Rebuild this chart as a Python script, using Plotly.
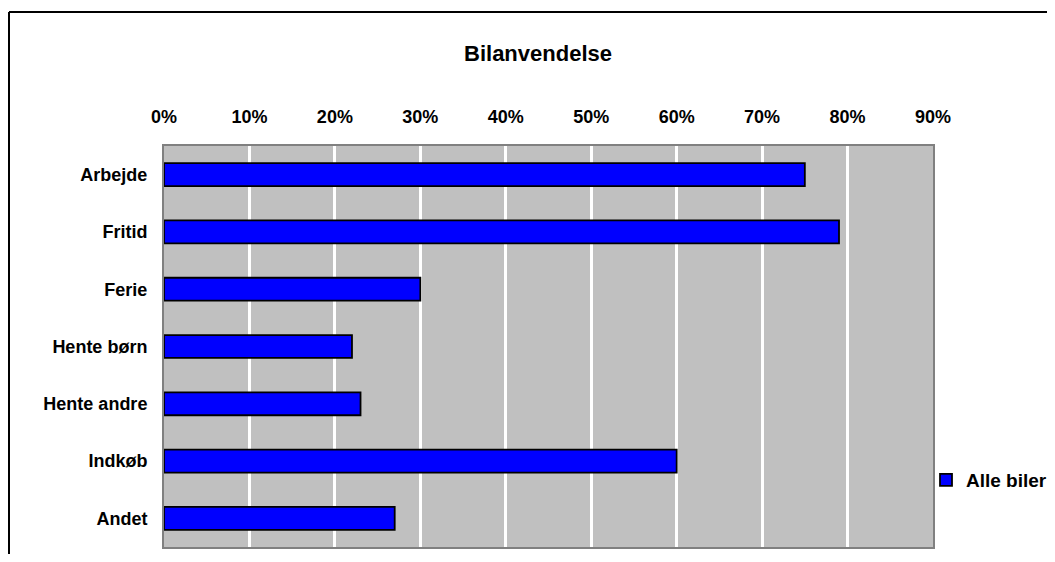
import plotly.graph_objects as go

categories = ["Arbejde", "Fritid", "Ferie", "Hente børn", "Hente andre", "Indkøb", "Andet"]
values = [0.75, 0.79, 0.30, 0.22, 0.23, 0.60, 0.27]
series_name = "Alle biler"
title_text = "Bilanvendelse"

OFF = 8  # page body margin of the html page
W, H = 1055 - 2 * OFF, 562 - 2 * OFF
L, T = 164 - OFF, 146 - OFF
R = W - (933 - OFF)
B = H - (547 - OFF)
pw, ph = W - L - R, H - T - B

def px2x(p):
    return (p - OFF - L) / pw

def px2y(p):
    return (H - B - (p - OFF)) / ph

def cx(p):
    return (p - OFF) / W

def cy(p):
    return 1 - (p - OFF) / H

font_family = "Liberation Sans, Arial, sans-serif"

fig = go.Figure()
fig.add_trace(go.Bar(
    x=values, y=categories, orientation="h", name="<b>" + series_name + "</b>",
    marker=dict(color="#0000FF", line=dict(color="#000000", width=1.8)),
    showlegend=True,
))

fig.update_layout(
    width=W, height=H,
    margin=dict(l=L, r=R, t=T, b=B, autoexpand=False),
    paper_bgcolor="white", plot_bgcolor="#C0C0C0",
    font=dict(family=font_family, size=18, color="black"),
    title=dict(text="<b>" + title_text + "</b>", x=cx(538), xanchor="center",
               y=cy(53), yanchor="middle", font=dict(size=22)),
    bargap=0.6,
    showlegend=True,
    legend=dict(xref="container", yref="container", x=cx(926), y=cy(480),
                xanchor="left", yanchor="middle",
                font=dict(size=19), bgcolor="rgba(0,0,0,0)", itemwidth=30),
    xaxis=dict(side="top", range=[0, 0.9], dtick=0.1, tick0=0, tickformat=".0%",
               showgrid=True, gridcolor="white", gridwidth=3,
               showline=True, linecolor="#808080", linewidth=2, mirror=True,
               zeroline=False, ticks="", ticklabelstandoff=14,
               tickprefix="<b>", ticksuffix="</b>",
               tickfont=dict(size=18)),
    yaxis=dict(autorange="reversed", showgrid=False,
               showline=True, linecolor="#808080", linewidth=2, mirror=True,
               ticks="", ticklabelstandoff=11,
               tickprefix="<b>", ticksuffix="</b>",
               tickfont=dict(size=18)),
)

# outer chart frame (top and left edges visible)
fig.add_shape(type="line", xref="paper", yref="paper",
              x0=px2x(9), x1=px2x(1100), y0=px2y(12), y1=px2y(12),
              line=dict(color="black", width=2))
fig.add_shape(type="line", xref="paper", yref="paper",
              x0=px2x(9), x1=px2x(9), y0=px2y(12), y1=px2y(600),
              line=dict(color="black", width=2))

fig.write_html("out.html")
